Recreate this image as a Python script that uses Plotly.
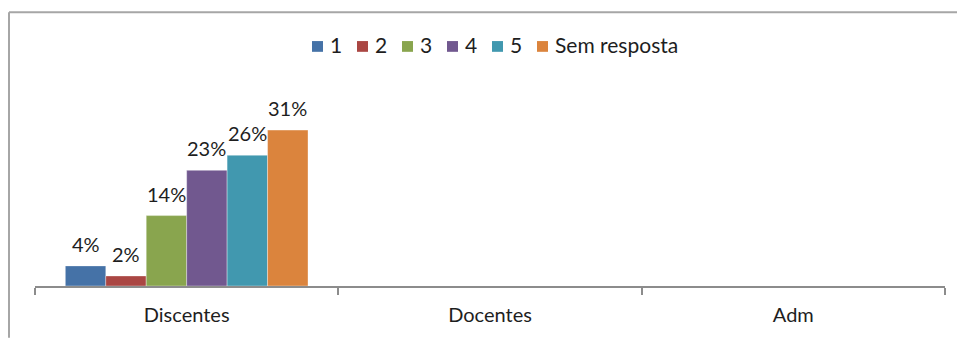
import plotly.graph_objects as go

categories = ["Discentes", "Docentes", "Adm"]
series_names = ["1", "2", "3", "4", "5", "Sem resposta"]
series_values = {
    "1": [0.04, None, None],
    "2": [0.02, None, None],
    "3": [0.14, None, None],
    "4": [0.23, None, None],
    "5": [0.26, None, None],
    "Sem resposta": [0.31, None, None],
}
series_colors = ["#4572A7", "#AA4643", "#89A54E", "#71588F", "#4198AF", "#DB843D"]

FONT = "Lato"
TXT = "#1e1e1e"
W, H = 957, 338
M_L, M_R, M_T, M_B = 35, 12, 110, 48
BARGAP = 0.2

plot_w = W - M_L - M_R
plot_h = H - M_T - M_B
cat_w = plot_w / len(categories)
bar_w = cat_w * (1 - BARGAP) / len(series_names)


def px_x(px):
    """Page pixel column -> paper x."""
    return (px - M_L) / plot_w


def px_y(py):
    """Page pixel row -> paper y."""
    return 1 - (py - M_T) / plot_h


fig = go.Figure()
annotations = []
shapes = []
for i, (name, color) in enumerate(zip(series_names, series_colors)):
    vals = series_values[name]
    fig.add_trace(go.Bar(
        name=name,
        x=categories,
        y=vals,
        marker=dict(color=color, line=dict(color="rgba(255,255,255,0.35)", width=1)),
        showlegend=False,
    ))
    # value labels above each bar
    offset = (i - (len(series_names) - 1) / 2) * bar_w
    for cat, v in zip(categories, vals):
        if v is None:
            continue
        annotations.append(dict(
            x=cat, y=v, xref="x", yref="y", xshift=offset, yshift=8,
            xanchor="center", yanchor="bottom", showarrow=False,
            text=f"{v:.0%}", font=dict(family=FONT, size=20, color=TXT),
        ))

# compact horizontal legend above the plot
LEG_X0, LEG_STEP, LEG_Y, SQ = 312, 45, 45, 11
for i, (name, color) in enumerate(zip(series_names, series_colors)):
    sx = LEG_X0 + i * LEG_STEP
    shapes.append(dict(
        type="rect", xref="paper", yref="paper",
        x0=px_x(sx), x1=px_x(sx + SQ), y0=px_y(LEG_Y + SQ / 2), y1=px_y(LEG_Y - SQ / 2),
        fillcolor=color, line=dict(width=0),
    ))
    annotations.append(dict(
        x=px_x(sx + SQ + 5), y=px_y(LEG_Y), xref="paper", yref="paper", yshift=2,
        xanchor="left", yanchor="middle", showarrow=False,
        text=name, font=dict(family=FONT, size=21, color=TXT),
    ))

# chart-area frame: top and left edges
shapes += [
    dict(type="line", xref="paper", yref="paper",
         x0=px_x(9), x1=px_x(W + 5), y0=px_y(10), y1=px_y(10),
         line=dict(color="#a6a6a6", width=2)),
    dict(type="line", xref="paper", yref="paper",
         x0=px_x(9), x1=px_x(9), y0=px_y(10), y1=px_y(H + 5),
         line=dict(color="#a6a6a6", width=2)),
]

fig.update_layout(
    width=W, height=H,
    margin=dict(l=M_L, r=M_R, t=M_T, b=M_B, pad=0),
    paper_bgcolor="white", plot_bgcolor="white",
    barmode="group", bargap=BARGAP, bargroupgap=0,
    font=dict(family=FONT, size=20, color=TXT),
    showlegend=False,
    xaxis=dict(
        type="category", showline=True, linecolor="#8c8c8c", linewidth=1.5,
        ticks="outside", tickson="boundaries", ticklen=7, tickcolor="#8c8c8c", tickwidth=1.5,
        showgrid=False, tickfont=dict(family=FONT, size=20, color=TXT),
        ticklabelstandoff=10,
        range=[-0.5, 2.5],
    ),
    yaxis=dict(range=[0, 0.35], visible=False, showgrid=False, zeroline=False),
    annotations=annotations,
    shapes=shapes,
)

fig.write_html("out.html")
